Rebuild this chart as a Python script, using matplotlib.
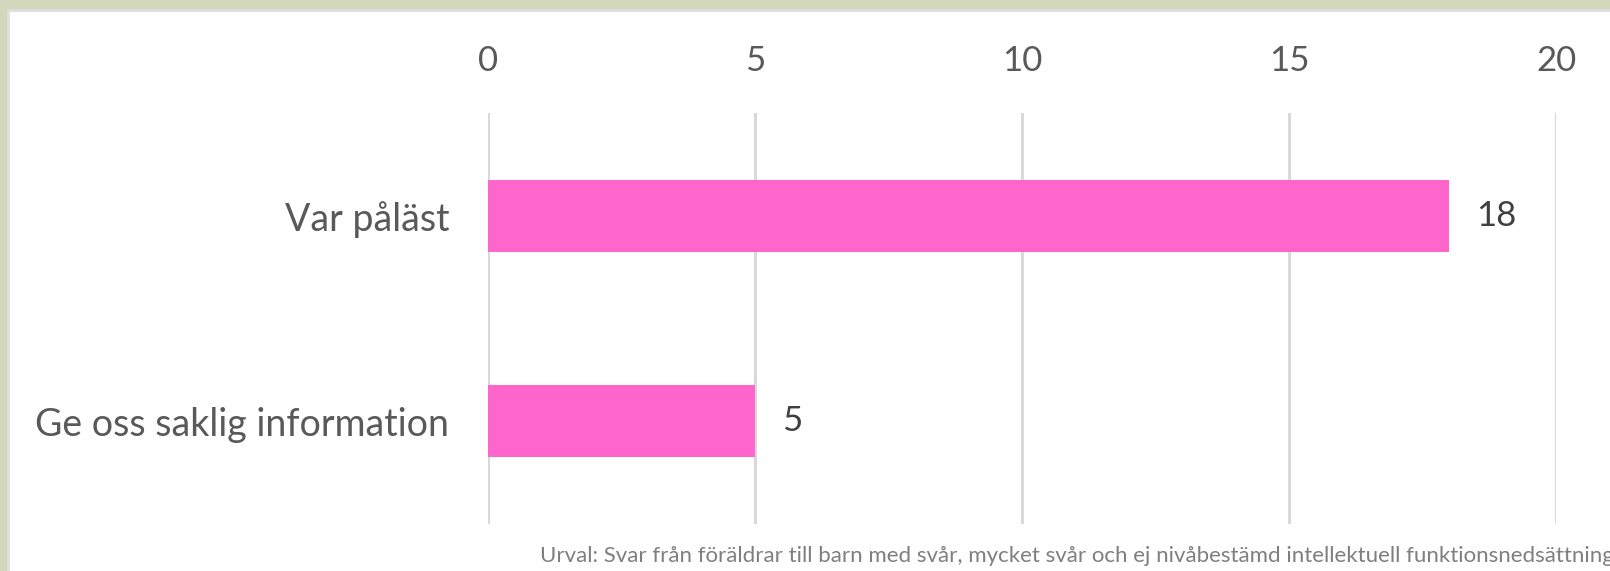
import matplotlib.pyplot as plt
from matplotlib.patches import Rectangle

# data
categories = ["Var påläst", "Ge oss saklig information"]
values = [18, 5]
xticks = [0, 5, 10, 15, 20]
note = "Urval: Svar från föräldrar till barn med svår, mycket svår och ej nivåbestämd intellektuell funktionsnedsättning"

plt.rcParams['font.family'] = ['Lato', 'DejaVu Sans']

W, H = 1610, 571
fig = plt.figure(figsize=(W / 100, H / 100), dpi=100)
fig.patch.set_facecolor("#d3d7bb")

# white panel with thin grey edge
fig.patches.append(Rectangle((8 / W, -0.01), 1.02, (H - 10) / H + 0.01,
                             transform=fig.transFigure, facecolor="white",
                             edgecolor="#dedede", lw=2, zorder=-5))

# axes: x 488..1556 px, y 113..524 px from top
ax = fig.add_axes([488 / W, (H - 524) / H, (1556 - 488) / W, (524 - 113) / H])
ax.set_facecolor("none")
ax.set_zorder(2)

ypos = list(range(len(categories)))
ax.barh(ypos, values, height=0.35, color="#ff66cc", zorder=2)

for y, v in zip(ypos, values):
    ax.text(v + 0.5, y, str(v), va="center", ha="left", fontsize=25, color="#404040")

ax.set_xlim(0, 20)
ax.set_ylim(1.5, -0.5)
ax.set_xticks(xticks)
ax.xaxis.tick_top()
ax.tick_params(axis="x", length=0, pad=26, labelsize=25, labelcolor="#595959")
ax.set_yticks(ypos)
ax.set_yticklabels(categories)
ax.tick_params(axis="y", length=0, pad=28, labelsize=27, labelcolor="#595959")
ax.grid(axis="x", color="#d9d9d9", lw=2.2, zorder=0)
for s in ax.spines.values():
    s.set_visible(False)

fig.text(540 / W, 15 / H, note, ha="left", va="center", fontsize=16, color="#7f7f7f")

fig.savefig("out.png", dpi=100, facecolor=fig.get_facecolor())
